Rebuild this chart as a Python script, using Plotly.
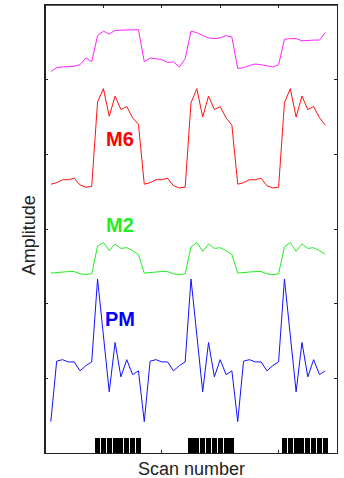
import plotly.graph_objects as go

scans = list(range(1, 49))

top_trace = [51.1, 51.6, 51.7, 51.7, 51.8, 52.0, 52.9, 52.4,
             55.9, 56.5, 56.1, 56.6, 56.6, 56.6, 56.6, 56.7,
             52.4, 52.9, 52.8, 52.7, 52.3, 52.4, 51.7, 52.8,
             56.5, 56.3, 55.9, 55.6, 55.5, 55.6, 55.9, 55.7,
             51.5, 51.6, 51.9, 52.1, 52.0, 51.8, 51.7, 52.0,
             55.4, 55.5, 55.5, 55.2, 55.3, 55.3, 55.3, 56.3]

m6 = [36.0, 36.2, 36.6, 36.6, 36.8, 35.9, 35.6, 35.7,
      47.0, 48.8, 45.1, 47.8, 46.0, 46.4, 44.9, 44.0,
      36.0, 36.2, 36.6, 36.6, 36.8, 35.8, 35.5, 35.6,
      46.9, 48.8, 45.0, 47.8, 46.0, 46.4, 44.9, 43.9,
      36.0, 36.2, 36.6, 36.6, 36.8, 35.8, 35.5, 35.6,
      46.9, 48.8, 45.0, 47.8, 46.0, 46.4, 44.9, 43.9]

m2 = [24.1, 24.2, 24.2, 24.3, 24.3, 24.0, 23.9, 24.0,
      27.7, 28.2, 27.1, 28.0, 27.4, 27.5, 27.1, 26.6,
      24.1, 24.2, 24.2, 24.3, 24.3, 24.0, 23.9, 24.0,
      27.6, 28.2, 27.0, 28.0, 27.4, 27.5, 27.1, 26.6,
      24.1, 24.2, 24.2, 24.3, 24.3, 24.0, 23.9, 24.0,
      27.6, 28.2, 27.0, 28.0, 27.4, 27.5, 27.1, 26.6]

pm = [4.2, 12.3, 12.5, 12.2, 12.2, 11.0, 11.7, 12.2,
      23.3, 15.8, 8.2, 14.8, 10.2, 12.5, 10.5, 11.0,
      4.2, 12.3, 12.5, 12.2, 12.2, 11.0, 11.7, 12.2,
      23.3, 15.8, 8.2, 14.8, 10.2, 12.5, 10.5, 11.0,
      4.2, 12.3, 12.5, 12.2, 12.2, 11.0, 11.7, 12.2,
      23.3, 15.8, 8.2, 14.8, 10.2, 12.5, 10.5, 11.0]

stimulus = [0, 0, 0, 0, 0, 0, 0, 0, 2, 2, 2, 2, 2, 2, 2, 2,
            0, 0, 0, 0, 0, 0, 0, 0, 2, 2, 2, 2, 2, 2, 2, 2,
            0, 0, 0, 0, 0, 0, 0, 0, 2, 2, 2, 2, 2, 2, 2, 2]

labels = ["M6", "M2", "PM"]
label_x = [12.8, 12.8, 12.9]
label_y = [42.0, 30.6, 17.9]
label_colors = ["#ff0000", "#22ee22", "#0000ff"]

xticks = [10, 20, 30, 40]
yticks = [10, 20, 30, 40, 50]

fig = go.Figure()
fig.add_trace(go.Bar(x=scans, y=stimulus, width=0.86, marker=dict(color="black", line=dict(width=0)),
                     showlegend=False, hoverinfo="skip"))
fig.add_trace(go.Scatter(x=scans, y=top_trace, mode="lines", line=dict(color="#ff22ff", width=1), showlegend=False))
fig.add_trace(go.Scatter(x=scans, y=m6, mode="lines", line=dict(color="#ff1111", width=1), showlegend=False))
fig.add_trace(go.Scatter(x=scans, y=m2, mode="lines", line=dict(color="#22ee22", width=1), showlegend=False))
fig.add_trace(go.Scatter(x=scans, y=pm, mode="lines", line=dict(color="#1111ff", width=1), showlegend=False))

for t, x, y, c in zip(labels, label_x, label_y, label_colors):
    fig.add_annotation(x=x, y=y, xref="x", yref="y", text="<b>" + t + "</b>", showarrow=False,
                       font=dict(family="Liberation Sans, Arial", size=20, color=c),
                       xanchor="center", yanchor="middle")

fig.add_annotation(x=0.5, y=-0.036, xref="paper", yref="paper", text="Scan number", showarrow=False,
                   font=dict(family="Liberation Sans, Arial", size=18, color="#222"),
                   xanchor="center", yanchor="middle")
fig.add_annotation(x=-0.057, y=0.487, xref="paper", yref="paper", text="Amplitude", showarrow=False,
                   textangle=-90, font=dict(family="Liberation Sans, Arial", size=18, color="#222"),
                   xanchor="center", yanchor="middle")

fig.add_shape(type="line", xref="paper", yref="paper", x0=0, x1=0, y0=0, y1=1,
              line=dict(color="#222", width=2))
fig.add_shape(type="line", xref="paper", yref="paper", x0=0, x1=1, y0=1, y1=1,
              line=dict(color="#222", width=1.5))

fig.update_layout(
    width=344, height=478,
    margin=dict(l=45, r=7, t=5, b=25),
    plot_bgcolor="white", paper_bgcolor="white",
    bargap=0,
    xaxis=dict(range=[0, 50], tickvals=xticks, showticklabels=False, ticks="inside", ticklen=3,
               tickcolor="#222", showline=True, linecolor="#222", linewidth=1, mirror="ticks",
               showgrid=False, zeroline=False),
    yaxis=dict(range=[0, 60], tickvals=yticks, showticklabels=False, ticks="inside", ticklen=3,
               tickcolor="#222", showline=True, linecolor="#222", linewidth=1, mirror="ticks",
               showgrid=False, zeroline=False),
)

fig.write_html("out.html", config={"displayModeBar": False},
               post_script="document.body.style.margin='0px';document.body.style.overflow='hidden';")
